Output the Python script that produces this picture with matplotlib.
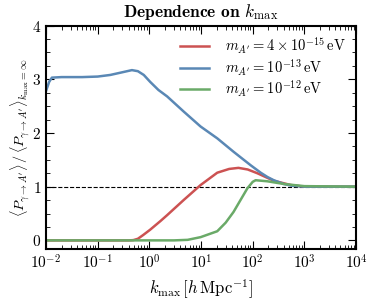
import numpy as np
import matplotlib
matplotlib.use('Agg')
import matplotlib.pyplot as plt
from matplotlib.ticker import AutoMinorLocator, LogLocator, NullFormatter

plt.rcParams['font.family'] = 'serif'
plt.rcParams['font.serif'] = ['cmr10']
plt.rcParams['mathtext.fontset'] = 'cm'
plt.rcParams['axes.formatter.use_mathtext'] = True

# ---- data
k_blue = [0.01, 0.0115, 0.013, 0.02, 0.05, 0.1, 0.175, 0.3, 0.46, 0.6, 0.78, 1.04,
          1.5, 2.21, 4.6, 9.8, 20.6, 42.6, 91, 143, 193, 256, 400, 550, 1000, 1e4]
r_blue = [2.78, 2.95, 3.03, 3.04, 3.04, 3.05, 3.08, 3.13, 3.17, 3.15, 3.08, 2.95,
          2.80, 2.68, 2.40, 2.12, 1.90, 1.65, 1.40, 1.26, 1.18, 1.12, 1.05, 1.02, 1.0, 1.0]

k_red = [0.01, 0.1, 0.4, 0.49, 0.6, 0.76, 1.04, 1.64, 2.21, 4.6, 9.8, 20.6,
         35, 53, 80, 123, 256, 550, 1000, 1e4]
r_red = [0.0, 0.0, 0.0, 0.005, 0.03, 0.10, 0.20, 0.36, 0.47, 0.75, 1.03, 1.26,
         1.33, 1.35, 1.32, 1.25, 1.11, 1.03, 1.0, 1.0]

k_green = [0.01, 0.1, 1.0, 3.0, 5.5, 9.8, 20.6, 30, 42.6, 58, 79, 100, 114,
           193, 400, 1000, 1e4]
r_green = [0.0, 0.0, 0.0, 0.0, 0.01, 0.06, 0.17, 0.33, 0.53, 0.75, 0.97, 1.09, 1.12,
           1.10, 1.05, 1.01, 1.0]

fig = plt.figure(figsize=(3.74, 3.04), dpi=100)
ax = fig.add_axes([0.123, 0.181, 0.829, 0.735])

ax.axhline(1.0, color='k', ls='--', lw=0.8, zorder=1)
ax.plot(k_red, r_red, color='#cc5252', lw=1.8, label=r'$m_{A^\prime} = 4\times10^{-15}\,\mathrm{eV}$')
ax.plot(k_blue, r_blue, color='#5a88b5', lw=1.8, label=r'$m_{A^\prime} = 10^{-13}\,\mathrm{eV}$')
ax.plot(k_green, r_green, color='#6aaa68', lw=1.8, label=r'$m_{A^\prime} = 10^{-12}\,\mathrm{eV}$')

ax.set_xscale('log')
ax.set_xlim(1e-2, 1e4)
ax.set_ylim(-0.16, 4)
ax.set_yticks([0, 1, 2, 3, 4])
ax.yaxis.set_minor_locator(AutoMinorLocator(4))
ax.xaxis.set_minor_locator(LogLocator(base=10, subs=np.arange(2, 10), numticks=20))
ax.xaxis.set_minor_formatter(NullFormatter())

ax.tick_params(which='both', direction='in', top=True, right=True, labelsize=11)
ax.tick_params(which='major', length=6, width=0.8)
ax.tick_params(which='minor', length=3, width=0.6)
for sp in ax.spines.values():
    sp.set_linewidth(1.5)

ax.set_title(r'Dependence on $k_{\mathrm{max}}$', fontsize=12.5, fontfamily='cmb10', pad=6)
ax.set_xlabel(r'$k_{\mathrm{max}}\,[h\,\mathrm{Mpc}^{-1}]$', fontsize=12)
ax.set_ylabel(r'$\langle P_{\gamma\to A^\prime}\rangle\,/\,\langle P_{\gamma\to A^\prime}\rangle_{k_{\mathrm{max}}=\infty}$',
              fontsize=10.2, labelpad=0)

ax.legend(loc='upper right', frameon=False, fontsize=10.5, handlelength=2.0,
          labelspacing=0.08, borderaxespad=0.3, handletextpad=1.1)

fig.savefig('out.png', dpi=100)
